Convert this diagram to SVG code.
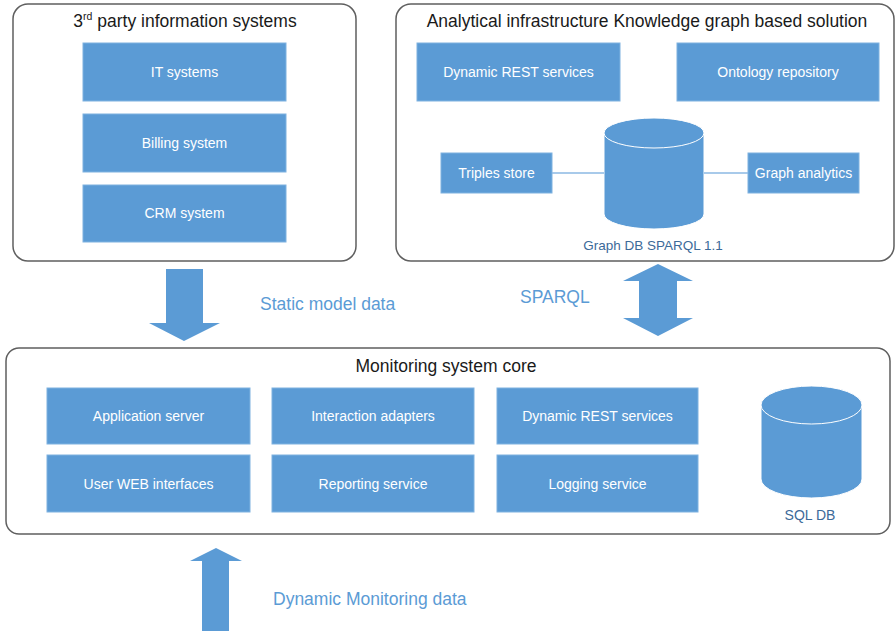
<svg xmlns="http://www.w3.org/2000/svg" width="896" height="631" viewBox="0 0 896 631">
<style>
.container{fill:#ffffff;stroke:#5f5f5f;stroke-width:1.5}
.box{fill:#5b9bd5;stroke:#7fb2e0;stroke-width:1}
.cyl{fill:#5b9bd5;stroke:#ffffff;stroke-width:1}
.title{font-family:"Liberation Sans",Arial,sans-serif;font-size:17.5px;fill:#1a1a1a;text-anchor:middle}
.lbl{font-family:"Liberation Sans",Arial,sans-serif;font-size:14px;fill:#ffffff;text-anchor:middle}
.dblbl{font-family:"Liberation Sans",Arial,sans-serif;fill:#3c6a99;text-anchor:middle}
.flow{font-family:"Liberation Sans",Arial,sans-serif;font-size:17.5px;fill:#5b9bd5}
.arrow{fill:#5b9bd5}
.link{stroke:#8bb8e3;stroke-width:1.5;fill:none}
</style>
<rect width="896" height="631" fill="#ffffff"/>

<g id="third-party">
  <rect class="container" x="13" y="4" width="343" height="257" rx="15"/>
  <text class="title" x="185" y="27">3<tspan font-size="10.5" dy="-7">rd</tspan><tspan dy="7"> party information systems</tspan></text>
</g>
<g id="it-systems">
  <rect class="box" x="83" y="43" width="203" height="58"/>
  <text class="lbl" x="184.5" y="77">IT systems</text>
</g>
<g id="billing-system">
  <rect class="box" x="83" y="114" width="203" height="58"/>
  <text class="lbl" x="184.5" y="148">Billing system</text>
</g>
<g id="crm-system">
  <rect class="box" x="83" y="185" width="203" height="57"/>
  <text class="lbl" x="184.5" y="218">CRM system</text>
</g>

<g id="analytical">
  <rect class="container" x="396" y="4" width="498" height="257" rx="15"/>
  <text class="title" x="647" y="27">Analytical infrastructure Knowledge graph based solution</text>
</g>
<g id="dynamic-rest-kg">
  <rect class="box" x="417" y="43" width="203" height="58"/>
  <text class="lbl" x="518.5" y="77">Dynamic REST services</text>
</g>
<g id="ontology-repository">
  <rect class="box" x="677" y="43" width="202" height="58"/>
  <text class="lbl" x="778" y="77">Ontology repository</text>
</g>
<g id="triples-store">
  <rect class="box" x="441" y="153" width="111" height="40"/>
  <text class="lbl" x="496.5" y="178">Triples store</text>
</g>
<g id="graph-analytics">
  <rect class="box" x="748" y="153" width="111" height="40"/>
  <text class="lbl" x="803.5" y="178">Graph analytics</text>
</g>
<g id="graph-db">
  <path class="cyl" d="M604,133 A50,15 0 0 1 704,133 L704,214 A50,15 0 0 1 604,214 Z"/>
  <path class="cyl" fill="none" d="M604,133 A50,15 0 0 0 704,133"/>
  <text class="dblbl" font-size="13.5" x="653" y="250">Graph DB SPARQL 1.1</text>
</g>

<g id="monitoring-core">
  <rect class="container" x="6" y="348" width="884" height="186" rx="13"/>
  <text class="title" x="446" y="372">Monitoring system core</text>
</g>
<g id="application-server">
  <rect class="box" x="47" y="388" width="203" height="56"/>
  <text class="lbl" x="148.5" y="421">Application server</text>
</g>
<g id="interaction-adapters">
  <rect class="box" x="272" y="388" width="202" height="56"/>
  <text class="lbl" x="373" y="421">Interaction adapters</text>
</g>
<g id="dynamic-rest-core">
  <rect class="box" x="497" y="388" width="201" height="56"/>
  <text class="lbl" x="597.5" y="421">Dynamic REST services</text>
</g>
<g id="user-web-interfaces">
  <rect class="box" x="47" y="455" width="203" height="57"/>
  <text class="lbl" x="148.5" y="488.5">User WEB interfaces</text>
</g>
<g id="reporting-service">
  <rect class="box" x="272" y="455" width="202" height="57"/>
  <text class="lbl" x="373" y="488.5">Reporting service</text>
</g>
<g id="logging-service">
  <rect class="box" x="497" y="455" width="201" height="57"/>
  <text class="lbl" x="597.5" y="488.5">Logging service</text>
</g>
<g id="sql-db">
  <path class="cyl" d="M761,405 A50.5,19 0 0 1 862,405 L862,479 A50.5,19 0 0 1 761,479 Z"/>
  <path class="cyl" fill="none" d="M761,405 A50.5,19 0 0 0 862,405"/>
  <text class="dblbl" font-size="14" x="810" y="520">SQL DB</text>
</g>

<g id="connectors">
  <line class="link" x1="552" y1="173" x2="604" y2="173"/>
  <line class="link" x1="704" y1="173" x2="748" y2="173"/>
  <polygon class="arrow" points="166,269 203,269 203,323 220,323 184,341 149,323 166,323"/>
  <text class="flow" x="260" y="310">Static model data</text>
  <polygon class="arrow" points="658,264 693,281 677,281 677,318 693,318 658,336 623,318 639,318 639,281 623,281"/>
  <text class="flow" font-size="15" x="520" y="303">SPARQL</text>
  <polygon class="arrow" points="216,548 242,561 229,561 229,631 202,631 202,561 190,561"/>
  <text class="flow" x="273" y="605">Dynamic Monitoring data</text>
</g>
</svg>
